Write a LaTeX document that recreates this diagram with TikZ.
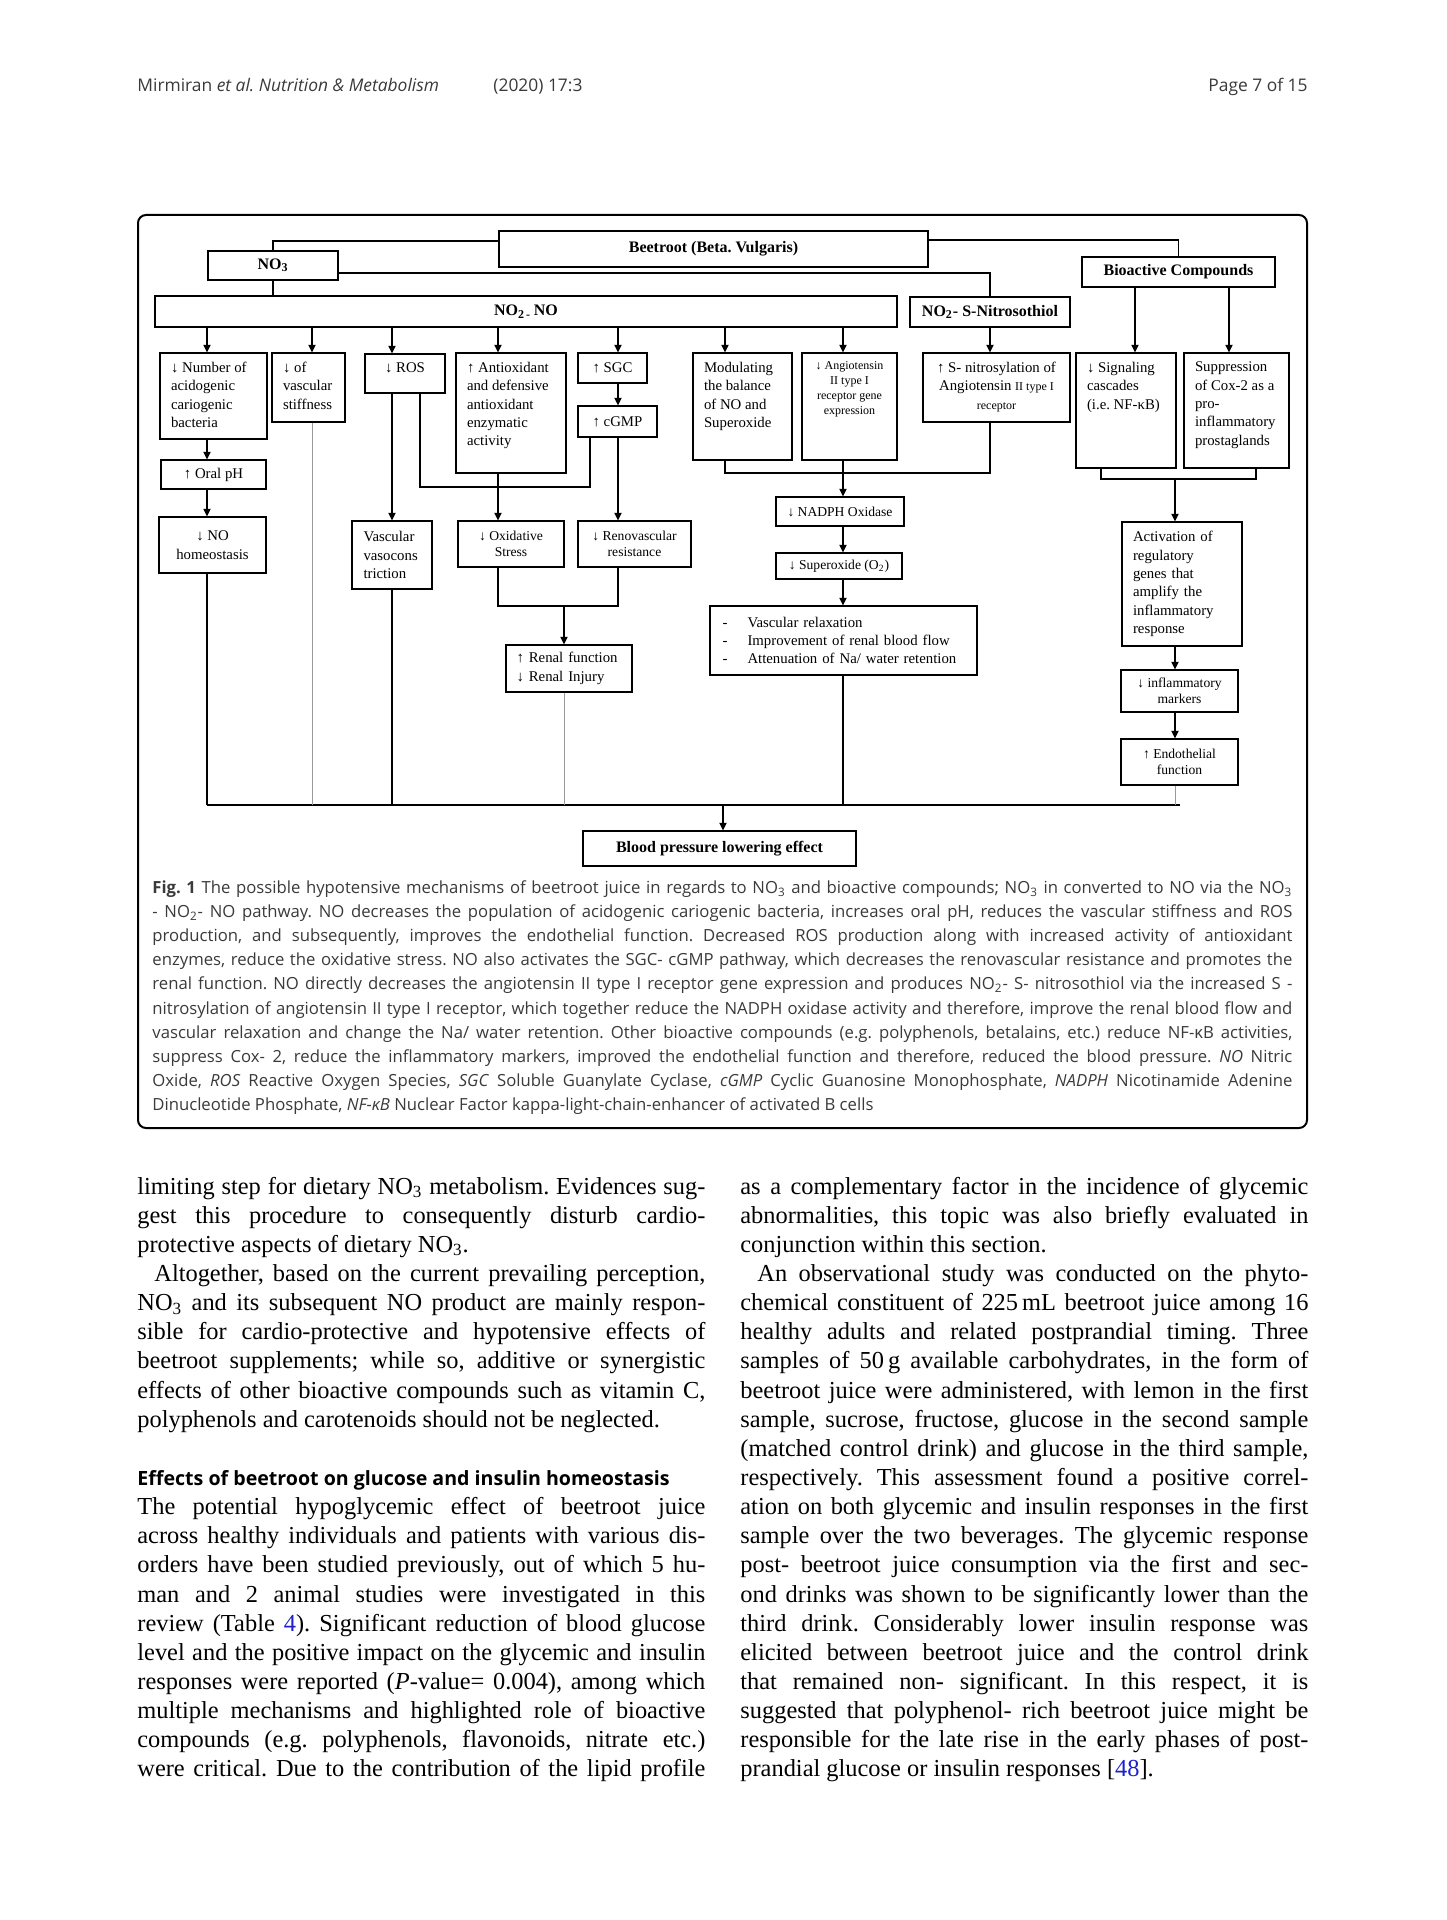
\documentclass[tikz,border=0pt]{standalone}
\usepackage{fontspec}
\setmainfont{Liberation Serif}
\newfontfamily\opensans{Open Sans}
\usetikzlibrary{arrows.meta}
\frenchspacing

\definecolor{capgray}{HTML}{3A3A3A}
\definecolor{linkblue}{HTML}{1F1FCC}

\newlength\unitpx \setlength\unitpx{0.5pt}
\newlength\colw \setlength\colw{284pt}
\newlength\capw \setlength\capw{570pt}

% fonts of the chart
\newcommand{\dg}{\fontsize{7.4}{9.2}\selectfont}
\newcommand{\dgs}{\fontsize{6.8}{8.2}\selectfont}
\newcommand{\dgt}{\fontsize{6}{7.4}\selectfont}
\newcommand{\dgb}{\fontsize{8}{9.6}\selectfont\bfseries}
\newcommand{\headf}{\opensans\bfseries\fontsize{9.8}{14.57}\selectfont}

% text of a box in the first row, set from the top
\newcommand{\topbox}[4]{\parbox[c][\dimexpr#2\unitpx-18\unitpx\relax][t]{\dimexpr#1\unitpx-22\unitpx\relax}{#3#4}}
% justified lines
\newcommand{\jcol}[1]{\makebox[\colw][s]{#1}}
\newcommand{\jcap}[1]{\makebox[\capw][s]{#1}}

\begin{document}
\begin{tikzpicture}[x=0.5pt, y=-0.5pt,
  box/.style={draw, line width=0.6pt, inner sep=0pt, align=center, font=\dg},
  toprow/.style={draw, line width=0.6pt, inner xsep=5.5pt, inner ysep=4.5pt, font=\dg},
  arr/.style={-{Triangle[length=3.8pt,width=3.6pt]}, line width=0.6pt},
  link/.style={line width=0.6pt},
  faint/.style={line width=0.5pt, gray!80}]

\fill[white] (0,0) rectangle (1446,1920);
\useasboundingbox (0,0) rectangle (1446,1920);

% running head
\node[anchor=base west, inner sep=0pt, text=capgray, font=\opensans\fontsize{8.7}{10}\selectfont] (runhead) at (137,92) {Mirmiran \textit{et al. Nutrition \& Metabolism}};
\node[anchor=base west, inner sep=0pt, text=capgray, font=\opensans\fontsize{8.7}{10}\selectfont] (year) at (493,92) {(2020) 17:3};
\node[anchor=base east, inner sep=0pt, text=capgray, font=\opensans\fontsize{8.7}{10}\selectfont] (pageno) at (1308,92) {Page 7 of 15};

% figure frame
\draw[line width=1pt, rounded corners=4pt] (138,215) rectangle (1307,1128);

% sources
\node[box, font=\dgb, minimum width=214.5pt, minimum height=18pt] (beet) at (713.5,249) {Beetroot (Beta. Vulgaris)};
\node[box, font=\dgb, minimum width=65pt, minimum height=14.5pt] (no3) at (273,265.5) {NO\textsubscript{3}};
\node[box, font=\dgb, minimum width=371pt, minimum height=15.5pt] (no2no) at (526,311.5) {NO\textsubscript{2\,-}\,NO};
\node[box, font=\dgb, minimum width=80pt, minimum height=15pt] (nitro) at (990,312) {NO\textsubscript{2}- S-Nitrosothiol};
\node[box, font=\dgb, minimum width=96.5pt, minimum height=15pt] (bio) at (1178.5,272) {Bioactive Compounds};

% first row
\node[toprow] (num) at (213.5,396) {\topbox{107}{86}{\raggedright}{↓ Number of\\acidogenic\\cariogenic\\bacteria}};
\node[toprow] (stiff) at (308.5,387.5) {\topbox{73}{69}{\raggedright}{↓ of\\vascular\\stiffness}};
\node[toprow] (ros) at (405,373.5) {\topbox{80}{39}{\centering}{↓ ROS}};
\node[toprow] (anti) at (511,413) {\topbox{110}{120}{\raggedright}{↑ Antioxidant\\and defensive\\antioxidant\\enzymatic\\activity}};
\node[box, minimum width=34.5pt, minimum height=15pt] (sgc) at (612.5,368) {↑ SGC};
\node[box, minimum width=39.5pt, minimum height=15.5pt] (cgmp) at (617.5,421.5) {↑ cGMP};
\node[toprow] (mod) at (742.5,406.5) {\topbox{99}{107}{\raggedright}{Modulating\\the balance\\of NO and\\Superoxide}};
\node[toprow, font=\dgt] (ang) at (849.5,406.5) {\topbox{95}{107}{\centering}{↓ Angiotensin\\II type I\\receptor gene\\expression}};
\node[toprow] (snit) at (996.5,387.5) {\topbox{147}{69}{\centering}{↑ S- nitrosylation of\\Angiotensin {\dgt II type I}\\{\dgt receptor}}};
\node[toprow] (sig) at (1126,410.5) {\topbox{100}{115}{\raggedright}{↓ Signaling\\cascades\\(i.e. NF-κB)}};
\node[toprow] (sup) at (1236.5,410.5) {\topbox{105}{115}{\raggedright}{Suppression\\of Cox-2 as a\\pro-\\inflammatory\\prostaglands}};

% lower boxes
\node[box, minimum width=52.5pt, minimum height=14.5pt] (oral) at (213.5,474.5) {↑ Oral pH};
\node[box, minimum width=53.5pt, minimum height=28pt] (homeo) at (212.5,545) {↓ NO\\homeostasis};
\node[box, text width=28.5pt, align=left, minimum width=40pt, minimum height=34pt] (vaso) at (392,555) {Vascular\\vasocons\\triction};
\node[box, font=\dgs, minimum width=53pt, minimum height=23pt] (oxid) at (511,544) {↓ Oxidative\\Stress};
\node[box, font=\dgs, minimum width=56.5pt, minimum height=23pt] (reno) at (634.5,544) {↓ Renovascular\\resistance};
\node[box, text width=52.5pt, align=left, minimum width=63pt, minimum height=23.5pt] (renal) at (569,668.5) {↑ Renal function\\↓ Renal Injury};
\node[box, font=\dgs, minimum width=64pt, minimum height=14.5pt] (nadph) at (840,511.5) {↓ NADPH Oxidase};
\node[box, font=\dgs, minimum width=63pt, minimum height=13pt] (super) at (839,566) {↓ Superoxide (O\textsubscript{2})};
\node[box, text width=121pt, align=left, minimum width=133.5pt, minimum height=34.5pt] (relax) at (843.5,640.5) {\makebox[12.5pt][l]{-}Vascular relaxation\\\makebox[12.5pt][l]{-}Improvement of renal blood flow\\\makebox[12.5pt][l]{-}Attenuation of Na/ water retention};
\node[box, text width=49pt, align=left, minimum width=60pt, minimum height=62pt] (act) at (1182,584) {Activation of\\regulatory\\genes that\\amplify the\\inflammatory\\response};
\node[box, font=\dgs, minimum width=58.5pt, minimum height=21pt] (inflam) at (1179.5,691) {↓ inflammatory\\markers};
\node[box, font=\dgs, minimum width=58.5pt, minimum height=23pt] (endo) at (1179.5,762) {↑ Endothelial\\function};
\node[box, font=\dgb, minimum width=136.5pt, minimum height=17.5pt] (bp) at (719.5,848.5) {Blood pressure lowering effect};

% columns and rows of the connectors
\foreach \n/\x in {cnum/207, cstiff/312, cros/392, crosb/420, canti/498, csgc/618, ccgmp/590,
                   cmod/725, cang/843, cnit/990, csig/1135, csigb/1101, csup/1229, csupb/1256,
                   cact/1175, crenal/564, cbp/723}
  \coordinate (\n) at (\x,0);
\coordinate (yloop) at (0,487);
\coordinate (yj1) at (0,606);
\coordinate (yj2) at (0,473);
\coordinate (yj3) at (0,479);
\coordinate (yrail) at (0,805);

% from the top
\draw[link] ([yshift=4pt]beet.west) -| (no3.north);
\draw[link] ([yshift=4.5pt]beet.east) -| (bio.north);
\draw[link] ([yshift=-3.75pt]no3.east) -| (nitro.north);
\draw[link] (no3.south) -- (no3.south |- no2no.north);

\foreach \c/\b in {cnum/num, cstiff/stiff, cros/ros, canti/anti, csgc/sgc, cmod/mod, cang/ang}
  \draw[arr] (no2no.south -| \c) -- (\b.north -| \c);
\draw[arr] (nitro.south -| cnit) -- (snit.north -| cnit);
\draw[arr] (bio.south -| csig) -- (sig.north -| csig);
\draw[arr] (bio.south -| csup) -- (sup.north -| csup);

% NO2-NO branches
\draw[arr] (num.south -| cnum) -- (oral.north -| cnum);
\draw[arr] (oral.south -| cnum) -- (homeo.north -| cnum);
\draw[arr] (ros.south -| cros) -- (vaso.north -| cros);
\draw[link] (ros.south -| crosb) |- (yloop -| ccgmp) -- (cgmp.south -| ccgmp);
\draw[arr] (anti.south -| canti) -- (oxid.north -| canti);
\draw[arr] (sgc.south -| csgc) -- (cgmp.north -| csgc);
\draw[arr] (cgmp.south -| csgc) -- (reno.north -| csgc);
\draw[link] (oxid.south -| canti) |- (yj1 -| csgc) -- (reno.south -| csgc);
\draw[arr] (yj1 -| crenal) -- (renal.north -| crenal);

% NADPH chain
\draw[link] (mod.south -| cmod) |- (yj2 -| cnit) -- (snit.south -| cnit);
\draw[arr] (ang.south -| cang) -- (nadph.north -| cang);
\draw[arr] (nadph.south -| cang) -- (super.north -| cang);
\draw[arr] (super.south -| cang) -- (relax.north -| cang);

% bioactive chain
\draw[link] (sig.south -| csigb) |- (yj3 -| csupb) -- (sup.south -| csupb);
\draw[arr] (yj3 -| cact) -- (act.north -| cact);
\draw[arr] (act.south -| cact) -- (inflam.north -| cact);
\draw[arr] (inflam.south -| cact) -- (endo.north -| cact);

% collecting rail
\draw[line width=0.8pt] (yrail -| cnum) -- ([xshift=2.5pt]yrail -| cact);
\draw[link] (homeo.south -| cnum) -- (yrail -| cnum);
\draw[faint] (stiff.south -| cstiff) -- (yrail -| cstiff);
\draw[link] (vaso.south -| cros) -- (yrail -| cros);
\draw[faint] (renal.south -| crenal) -- (yrail -| crenal);
\draw[link] (relax.south -| cang) -- (yrail -| cang);
\draw[faint] (endo.south -| cact) -- (yrail -| cact);
\draw[arr] (yrail -| cbp) -- (bp.north -| cbp);

% caption
\node[anchor=north west, inner sep=0pt, align=left, text=capgray, font=\opensans\fontsize{8.35}{12.1}\selectfont] (caption) at (152,880) {%
\jcap{\textbf{Fig. 1} The possible hypotensive mechanisms of beetroot juice in regards to NO\textsubscript{3} and bioactive compounds; NO\textsubscript{3} in converted to NO via the NO\textsubscript{3}}\\
\jcap{- NO\textsubscript{2}- NO pathway. NO decreases the population of acidogenic cariogenic bacteria, increases oral pH, reduces the vascular stiffness and ROS}\\
\jcap{production, and subsequently, improves the endothelial function. Decreased ROS production along with increased activity of antioxidant}\\
\jcap{enzymes, reduce the oxidative stress. NO also activates the SGC- cGMP pathway, which decreases the renovascular resistance and promotes the}\\
\jcap{renal function. NO directly decreases the angiotensin II type I receptor gene expression and produces NO\textsubscript{2}- S- nitrosothiol via the increased S -}\\
\jcap{nitrosylation of angiotensin II type I receptor, which together reduce the NADPH oxidase activity and therefore, improve the renal blood flow and}\\
\jcap{vascular relaxation and change the Na/ water retention. Other bioactive compounds (e.g. polyphenols, betalains, etc.) reduce NF-κB activities,}\\
\jcap{suppress Cox- 2, reduce the inflammatory markers, improved the endothelial function and therefore, reduced the blood pressure. \textit{NO} Nitric}\\
\jcap{Oxide, \textit{ROS} Reactive Oxygen Species, \textit{SGC} Soluble Guanylate Cyclase, \textit{cGMP} Cyclic Guanosine Monophosphate, \textit{NADPH} Nicotinamide Adenine}\\
Dinucleotide Phosphate, \textit{NF-κB} Nuclear Factor kappa-light-chain-enhancer of activated B cells};

% body text, left column
\node[anchor=north west, inner sep=0pt, align=left, font=\fontsize{12.2}{14.57}\selectfont] (leftcol) at (137,1176.5) {%
\jcol{limiting step for dietary NO\textsubscript{3} metabolism. Evidences sug-}\\
\jcol{gest this procedure to consequently disturb cardio-}\\
protective aspects of dietary NO\textsubscript{3}.\\
\jcol{\kern8.5pt Altogether, based on the current prevailing perception,}\\
\jcol{NO\textsubscript{3} and its subsequent NO product are mainly respon-}\\
\jcol{sible for cardio-protective and hypotensive effects of}\\
\jcol{beetroot supplements; while so, additive or synergistic}\\
\jcol{effects of other bioactive compounds such as vitamin C,}\\
polyphenols and carotenoids should not be neglected.\\
\mbox{}\\
{\headf Effects of beetroot on glucose and insulin homeostasis}\\
\jcol{The potential hypoglycemic effect of beetroot juice}\\
\jcol{across healthy individuals and patients with various dis-}\\
\jcol{orders have been studied previously, out of which 5 hu-}\\
\jcol{man and 2 animal studies were investigated in this}\\
\jcol{review (Table \textcolor{linkblue}{4}). Significant reduction of blood glucose}\\
\jcol{level and the positive impact on the glycemic and insulin}\\
\jcol{responses were reported (\textit{P}-value= 0.004), among which}\\
\jcol{multiple mechanisms and highlighted role of bioactive}\\
\jcol{compounds (e.g. polyphenols, flavonoids, nitrate etc.)}\\
\jcol{were critical. Due to the contribution of the lipid profile}};

% body text, right column
\node[anchor=north west, inner sep=0pt, align=left, font=\fontsize{12.2}{14.57}\selectfont] (rightcol) at (740,1176.5) {%
\jcol{as a complementary factor in the incidence of glycemic}\\
\jcol{abnormalities, this topic was also briefly evaluated in}\\
conjunction within this section.\\
\jcol{\kern8.5pt An observational study was conducted on the phyto-}\\
\jcol{chemical constituent of 225\,mL beetroot juice among 16}\\
\jcol{healthy adults and related postprandial timing. Three}\\
\jcol{samples of 50\,g available carbohydrates, in the form of}\\
\jcol{beetroot juice were administered, with lemon in the first}\\
\jcol{sample, sucrose, fructose, glucose in the second sample}\\
\jcol{(matched control drink) and glucose in the third sample,}\\
\jcol{respectively. This assessment found a positive correl-}\\
\jcol{ation on both glycemic and insulin responses in the first}\\
\jcol{sample over the two beverages. The glycemic response}\\
\jcol{post- beetroot juice consumption via the first and sec-}\\
\jcol{ond drinks was shown to be significantly lower than the}\\
\jcol{third drink. Considerably lower insulin response was}\\
\jcol{elicited between beetroot juice and the control drink}\\
\jcol{that remained non- significant. In this respect, it is}\\
\jcol{suggested that polyphenol- rich beetroot juice might be}\\
\jcol{responsible for the late rise in the early phases of post-}\\
prandial glucose or insulin responses [\textcolor{linkblue}{48}].};
\end{tikzpicture}
\end{document}
